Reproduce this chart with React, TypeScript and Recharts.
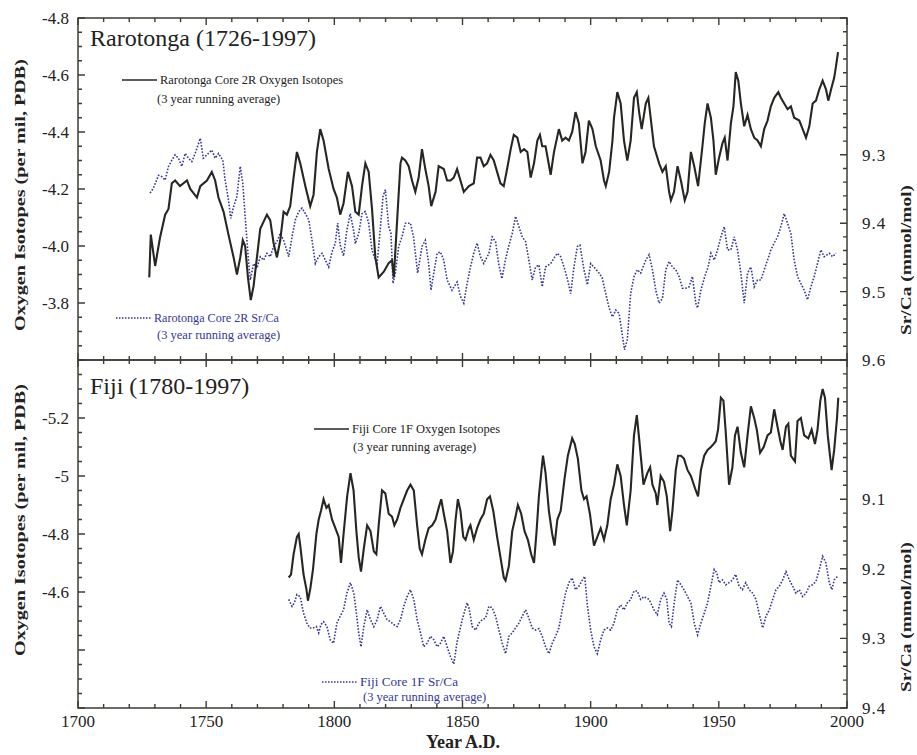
import React from 'react';
import { LineChart, Line, XAxis, YAxis } from 'recharts';

// Rarotonga core 2R, oxygen isotopes (per mil, PDB), 3 year running average
const raroO18: number[][] = [
  [1727.8, -3.89], [1728.4, -4.04], [1730.1, -3.93], [1732.0, -4.03], [1734.0, -4.11], [1735.3, -4.13],
  [1736.6, -4.22], [1737.9, -4.23], [1739.8, -4.21], [1742.5, -4.23], [1743.8, -4.2], [1746.4, -4.17],
  [1747.7, -4.21], [1750.3, -4.23], [1752.2, -4.26], [1753.5, -4.23], [1754.8, -4.17], [1756.8, -4.12],
  [1758.7, -4.04], [1760.7, -3.96], [1762.0, -3.9], [1763.3, -3.96], [1764.3, -4.02], [1765.2, -4.0],
  [1766.3, -3.89], [1767.4, -3.81], [1768.5, -3.86], [1769.8, -3.96], [1771.1, -4.06], [1773.7, -4.11],
  [1775.0, -4.09], [1776.3, -4.01], [1777.6, -3.96], [1778.9, -4.02], [1780.2, -4.12], [1781.5, -4.11],
  [1782.8, -4.14], [1784.1, -4.24], [1785.4, -4.33], [1786.7, -4.29], [1788.7, -4.21], [1790.6, -4.14],
  [1791.9, -4.18], [1793.2, -4.33], [1794.5, -4.41], [1795.8, -4.37], [1797.8, -4.27], [1799.7, -4.2],
  [1801.0, -4.17], [1802.3, -4.11], [1803.6, -4.15], [1805.3, -4.26], [1806.9, -4.21], [1808.2, -4.12],
  [1809.5, -4.11], [1810.8, -4.21], [1812.1, -4.29], [1813.4, -4.26], [1814.7, -4.13], [1816.0, -3.96],
  [1817.3, -3.89], [1819.3, -3.91], [1821.2, -3.94], [1822.5, -3.95], [1823.2, -3.89], [1824.5, -4.09],
  [1825.8, -4.29], [1826.4, -4.31], [1827.7, -4.3], [1829.0, -4.28], [1830.3, -4.23], [1831.6, -4.19],
  [1832.9, -4.24], [1834.2, -4.34], [1835.5, -4.27], [1836.8, -4.21], [1837.8, -4.14], [1839.5, -4.19],
  [1840.7, -4.28], [1842.7, -4.27], [1844.0, -4.23], [1845.3, -4.23], [1846.6, -4.24], [1847.9, -4.27],
  [1849.2, -4.23], [1850.5, -4.19], [1852.5, -4.21], [1854.4, -4.22], [1855.7, -4.31], [1857.0, -4.31],
  [1858.3, -4.28], [1859.6, -4.29], [1860.9, -4.32], [1862.2, -4.3], [1863.5, -4.26], [1864.8, -4.22],
  [1866.1, -4.21], [1867.4, -4.27], [1868.8, -4.34], [1870.0, -4.39], [1871.4, -4.38], [1872.7, -4.33],
  [1874.0, -4.34], [1875.3, -4.33], [1876.6, -4.24], [1877.9, -4.29], [1879.2, -4.37], [1880.2, -4.39],
  [1881.1, -4.35], [1882.4, -4.35], [1884.4, -4.25], [1885.7, -4.33], [1887.6, -4.41], [1888.9, -4.37],
  [1890.2, -4.38], [1891.5, -4.37], [1892.8, -4.4], [1894.1, -4.47], [1895.4, -4.43], [1896.8, -4.29],
  [1898.0, -4.33], [1899.3, -4.44], [1900.7, -4.41], [1902.0, -4.35], [1903.9, -4.3], [1905.2, -4.23],
  [1905.9, -4.21], [1907.2, -4.26], [1908.5, -4.37], [1909.1, -4.45], [1910.4, -4.54], [1911.7, -4.5],
  [1913.0, -4.37], [1914.3, -4.3], [1915.6, -4.37], [1916.9, -4.52], [1918.0, -4.54], [1918.9, -4.47],
  [1919.9, -4.41], [1921.5, -4.5], [1922.5, -4.52], [1923.4, -4.45], [1924.7, -4.35], [1926.7, -4.29],
  [1928.0, -4.26], [1929.3, -4.28], [1930.6, -4.19], [1931.3, -4.16], [1932.5, -4.19], [1933.9, -4.28],
  [1935.2, -4.23], [1936.7, -4.16], [1937.8, -4.19], [1939.1, -4.33], [1940.4, -4.28], [1941.9, -4.21],
  [1943.6, -4.35], [1944.5, -4.43], [1945.6, -4.5], [1946.9, -4.45], [1947.9, -4.37], [1948.8, -4.25],
  [1950.1, -4.31], [1951.4, -4.36], [1952.3, -4.38], [1953.4, -4.3], [1954.7, -4.43], [1955.7, -4.49],
  [1956.6, -4.61], [1957.6, -4.58], [1958.6, -4.5], [1959.9, -4.42], [1961.2, -4.46], [1962.5, -4.41],
  [1963.8, -4.38], [1965.1, -4.37], [1966.4, -4.35], [1967.7, -4.41], [1969.0, -4.44], [1970.3, -4.49],
  [1971.6, -4.52], [1973.2, -4.54], [1974.2, -4.52], [1975.5, -4.5], [1976.8, -4.48], [1978.1, -4.49],
  [1979.4, -4.45], [1981.4, -4.44], [1982.7, -4.41], [1984.0, -4.38], [1985.3, -4.42], [1986.6, -4.5],
  [1987.9, -4.51], [1989.2, -4.55], [1990.5, -4.58], [1991.8, -4.55], [1992.7, -4.51], [1993.8, -4.55],
  [1995.0, -4.59], [1995.7, -4.63], [1996.5, -4.68],
];

// Rarotonga core 2R, Sr/Ca (mmol/mol)
const raroSrCa: number[][] = [
  [1728.1, 9.356], [1729.4, 9.349], [1731.4, 9.33], [1732.7, 9.332], [1734.0, 9.337], [1735.3, 9.317],
  [1736.6, 9.308], [1737.9, 9.3], [1739.2, 9.305], [1740.5, 9.317], [1741.8, 9.298], [1743.1, 9.305],
  [1744.4, 9.31], [1745.7, 9.298], [1747.7, 9.276], [1748.9, 9.305], [1750.3, 9.3], [1752.2, 9.293],
  [1753.5, 9.305], [1754.8, 9.298], [1756.5, 9.308], [1757.4, 9.337], [1758.7, 9.366], [1759.6, 9.393],
  [1760.7, 9.376], [1762.0, 9.361], [1763.3, 9.317], [1764.3, 9.342], [1765.2, 9.39], [1766.5, 9.454],
  [1767.2, 9.483], [1768.5, 9.459], [1769.8, 9.466], [1771.1, 9.449], [1772.4, 9.454], [1773.7, 9.444],
  [1775.0, 9.449], [1776.3, 9.434], [1777.6, 9.427], [1778.9, 9.415], [1780.2, 9.425], [1782.2, 9.449],
  [1783.5, 9.42], [1784.8, 9.395], [1786.1, 9.383], [1787.4, 9.378], [1788.7, 9.386], [1790.0, 9.395],
  [1791.3, 9.425], [1792.6, 9.459], [1793.9, 9.449], [1795.2, 9.444], [1796.5, 9.454], [1797.8, 9.464],
  [1799.1, 9.442], [1800.4, 9.429], [1801.3, 9.4], [1802.3, 9.432], [1803.6, 9.448], [1804.9, 9.41],
  [1806.2, 9.386], [1807.5, 9.41], [1808.2, 9.43], [1809.5, 9.415], [1810.8, 9.386], [1812.1, 9.383],
  [1813.4, 9.4], [1814.7, 9.439], [1816.0, 9.454], [1816.7, 9.459], [1818.0, 9.405], [1819.0, 9.361],
  [1819.9, 9.351], [1821.2, 9.405], [1822.1, 9.415], [1822.9, 9.488], [1823.8, 9.473], [1825.1, 9.434],
  [1826.4, 9.42], [1827.7, 9.4], [1829.7, 9.4], [1830.9, 9.42], [1832.5, 9.473], [1834.2, 9.434],
  [1835.5, 9.425], [1836.8, 9.459], [1837.7, 9.498], [1838.8, 9.473], [1840.1, 9.444], [1841.4, 9.442],
  [1842.7, 9.454], [1844.0, 9.483], [1845.9, 9.498], [1847.9, 9.486], [1849.2, 9.507], [1850.5, 9.517],
  [1851.8, 9.488], [1853.1, 9.464], [1854.4, 9.444], [1855.7, 9.429], [1857.0, 9.449], [1858.3, 9.459],
  [1860.3, 9.444], [1861.6, 9.42], [1862.9, 9.427], [1864.1, 9.459], [1865.4, 9.481], [1866.7, 9.454],
  [1868.0, 9.434], [1869.4, 9.415], [1870.7, 9.39], [1872.0, 9.405], [1873.3, 9.42], [1874.6, 9.427],
  [1875.9, 9.454], [1877.2, 9.483], [1878.5, 9.464], [1879.8, 9.461], [1881.1, 9.493], [1882.4, 9.464],
  [1884.4, 9.459], [1885.7, 9.451], [1887.0, 9.444], [1888.3, 9.449], [1889.6, 9.464], [1890.9, 9.481],
  [1892.2, 9.503], [1893.5, 9.464], [1894.8, 9.434], [1895.8, 9.432], [1897.4, 9.468], [1898.7, 9.49],
  [1900.0, 9.459], [1901.3, 9.464], [1903.3, 9.473], [1904.5, 9.48], [1905.9, 9.503], [1907.2, 9.524],
  [1908.5, 9.537], [1909.8, 9.527], [1911.1, 9.532], [1912.2, 9.56], [1913.2, 9.585], [1914.3, 9.57],
  [1915.6, 9.503], [1916.9, 9.478], [1918.2, 9.468], [1919.5, 9.473], [1921.5, 9.454], [1922.8, 9.446],
  [1924.1, 9.468], [1925.4, 9.498], [1926.7, 9.517], [1928.0, 9.51], [1929.3, 9.468], [1930.6, 9.456],
  [1931.9, 9.464], [1933.2, 9.468], [1934.5, 9.478], [1935.8, 9.495], [1937.1, 9.495], [1938.4, 9.493],
  [1939.7, 9.478], [1941.0, 9.517], [1941.7, 9.524], [1943.0, 9.498], [1944.5, 9.478], [1945.8, 9.464],
  [1946.9, 9.444], [1948.2, 9.454], [1949.5, 9.439], [1950.8, 9.42], [1952.1, 9.405], [1953.4, 9.439],
  [1954.7, 9.439], [1956.0, 9.42], [1957.3, 9.439], [1958.6, 9.473], [1959.9, 9.517], [1961.2, 9.473],
  [1962.5, 9.464], [1963.8, 9.493], [1965.1, 9.483], [1966.4, 9.483], [1967.7, 9.468], [1969.0, 9.454],
  [1970.3, 9.439], [1971.6, 9.429], [1972.9, 9.42], [1974.2, 9.405], [1975.5, 9.386], [1976.8, 9.4],
  [1978.1, 9.415], [1979.4, 9.454], [1980.7, 9.478], [1982.0, 9.488], [1983.3, 9.498], [1984.6, 9.512],
  [1985.9, 9.493], [1987.2, 9.478], [1988.5, 9.459], [1989.8, 9.439], [1991.1, 9.449], [1993.1, 9.444],
  [1994.4, 9.449], [1995.7, 9.444],
];

// Fiji core 1F, oxygen isotopes
const fijiO18: number[][] = [
  [1782.2, -4.65], [1783.1, -4.66], [1784.1, -4.73], [1785.4, -4.79], [1786.1, -4.8], [1786.7, -4.76],
  [1788.0, -4.66], [1789.1, -4.61], [1789.7, -4.57], [1790.6, -4.61], [1791.7, -4.68], [1793.0, -4.8],
  [1793.9, -4.85], [1794.8, -4.88], [1795.8, -4.92], [1796.9, -4.89], [1797.8, -4.9], [1799.1, -4.85],
  [1800.4, -4.82], [1801.7, -4.79], [1802.6, -4.7], [1803.6, -4.8], [1805.0, -4.93], [1806.3, -5.01],
  [1807.5, -4.95], [1808.6, -4.81], [1809.5, -4.72], [1810.4, -4.67], [1811.5, -4.75], [1812.8, -4.83],
  [1814.1, -4.81], [1815.4, -4.74], [1816.4, -4.73], [1817.3, -4.83], [1818.6, -4.95], [1819.9, -4.94],
  [1821.2, -4.87], [1822.5, -4.86], [1823.4, -4.83], [1824.5, -4.85], [1825.8, -4.89], [1827.1, -4.92],
  [1828.4, -4.95], [1829.7, -4.97], [1831.0, -4.95], [1832.3, -4.83], [1833.3, -4.75], [1834.2, -4.73],
  [1835.5, -4.78], [1836.8, -4.82], [1838.2, -4.83], [1839.5, -4.85], [1840.7, -4.89], [1841.7, -4.92],
  [1842.7, -4.87], [1844.0, -4.81], [1845.3, -4.7], [1846.3, -4.74], [1847.3, -4.85], [1848.2, -4.92],
  [1849.2, -4.88], [1850.3, -4.79], [1851.2, -4.78], [1852.5, -4.82], [1853.1, -4.83], [1854.4, -4.78],
  [1855.7, -4.82], [1857.0, -4.85], [1858.3, -4.87], [1859.6, -4.92], [1860.7, -4.93], [1862.0, -4.88],
  [1863.5, -4.79], [1864.8, -4.72], [1866.1, -4.65], [1866.8, -4.64], [1868.1, -4.69], [1869.4, -4.81],
  [1870.7, -4.86], [1871.6, -4.9], [1872.9, -4.87], [1874.2, -4.81], [1875.5, -4.78], [1876.8, -4.73],
  [1877.9, -4.7], [1878.9, -4.81], [1879.8, -4.93], [1880.7, -5.01], [1881.4, -5.07], [1882.4, -5.01],
  [1883.7, -4.88], [1885.0, -4.8], [1885.9, -4.76], [1887.0, -4.85], [1888.3, -4.88], [1889.8, -4.99],
  [1891.1, -5.07], [1892.8, -5.13], [1893.8, -5.11], [1895.0, -5.06], [1896.4, -4.95], [1897.4, -4.92],
  [1898.4, -4.93], [1899.7, -4.87], [1901.3, -4.76], [1902.6, -4.79], [1903.9, -4.82], [1905.2, -4.78],
  [1906.5, -4.83], [1907.8, -4.92], [1909.1, -4.97], [1910.4, -5.04], [1911.7, -5.0], [1913.0, -4.9],
  [1914.1, -4.83], [1915.6, -4.95], [1916.9, -5.14], [1918.0, -5.21], [1918.9, -5.13], [1920.6, -4.97],
  [1922.1, -5.01], [1923.2, -5.03], [1924.1, -4.97], [1925.4, -4.94], [1926.0, -4.9], [1927.3, -5.0],
  [1928.6, -4.98], [1929.7, -4.93], [1931.0, -4.81], [1931.9, -4.88], [1933.2, -5.02], [1934.1, -5.07],
  [1935.2, -5.07], [1936.4, -5.06], [1937.8, -5.02], [1939.1, -5.0], [1941.0, -4.95], [1941.9, -4.93],
  [1943.0, -5.02], [1944.3, -5.07], [1945.6, -5.09], [1946.9, -5.1], [1947.9, -5.11], [1948.8, -5.12],
  [1949.7, -5.16], [1950.8, -5.27], [1951.8, -5.26], [1952.7, -5.15], [1954.0, -4.97], [1955.3, -5.03],
  [1956.3, -5.14], [1957.3, -5.17], [1958.6, -5.08], [1959.9, -5.03], [1961.2, -5.14], [1962.5, -5.24],
  [1963.8, -5.2], [1964.8, -5.16], [1966.1, -5.08], [1967.5, -5.1], [1969.0, -5.14], [1970.3, -5.15],
  [1971.6, -5.23], [1972.9, -5.17], [1974.0, -5.12], [1974.9, -5.09], [1976.2, -5.17], [1977.1, -5.18],
  [1978.1, -5.07], [1979.7, -5.05], [1980.7, -5.19], [1982.0, -5.2], [1983.3, -5.14], [1984.9, -5.13],
  [1986.2, -5.16], [1987.5, -5.11], [1988.5, -5.16], [1989.6, -5.26], [1990.5, -5.3], [1991.4, -5.27],
  [1992.5, -5.14], [1993.5, -5.06], [1994.0, -5.02], [1995.0, -5.09], [1996.1, -5.2], [1996.6, -5.27],
];

// Fiji core 1F, Sr/Ca
const fijiSrCa: number[][] = [
  [1782.2, 9.244], [1783.5, 9.254], [1784.4, 9.249], [1785.4, 9.237], [1786.7, 9.24], [1788.0, 9.264],
  [1789.3, 9.278], [1790.4, 9.285], [1791.7, 9.285], [1793.0, 9.283], [1793.9, 9.292], [1794.8, 9.28],
  [1795.8, 9.276], [1797.1, 9.283], [1798.4, 9.302], [1799.7, 9.307], [1801.0, 9.278], [1802.3, 9.268],
  [1803.6, 9.259], [1804.9, 9.235], [1806.3, 9.22], [1807.6, 9.235], [1808.6, 9.264], [1809.5, 9.292],
  [1810.4, 9.312], [1811.5, 9.283], [1812.8, 9.259], [1814.1, 9.273], [1815.4, 9.283], [1816.7, 9.273],
  [1818.0, 9.254], [1819.3, 9.264], [1820.6, 9.273], [1821.9, 9.276], [1823.2, 9.28], [1824.5, 9.283],
  [1825.8, 9.273], [1827.1, 9.254], [1828.4, 9.24], [1829.7, 9.23], [1831.0, 9.244], [1832.3, 9.273],
  [1833.6, 9.292], [1834.9, 9.312], [1836.2, 9.307], [1837.5, 9.297], [1838.8, 9.302], [1840.1, 9.312],
  [1841.4, 9.307], [1842.7, 9.297], [1844.0, 9.312], [1845.3, 9.326], [1846.6, 9.337], [1847.9, 9.305],
  [1849.9, 9.273], [1851.8, 9.249], [1852.5, 9.256], [1853.8, 9.283], [1855.1, 9.288], [1856.4, 9.278],
  [1857.7, 9.273], [1859.0, 9.271], [1860.3, 9.254], [1861.6, 9.256], [1862.9, 9.268], [1864.2, 9.288],
  [1865.5, 9.307], [1866.8, 9.322], [1868.1, 9.297], [1869.4, 9.292], [1870.7, 9.285], [1872.0, 9.278],
  [1873.3, 9.268], [1874.6, 9.259], [1875.9, 9.271], [1877.2, 9.285], [1878.5, 9.288], [1879.8, 9.286],
  [1881.1, 9.297], [1882.4, 9.312], [1883.7, 9.322], [1885.0, 9.307], [1886.3, 9.297], [1887.6, 9.285],
  [1888.9, 9.259], [1890.2, 9.235], [1891.5, 9.22], [1892.8, 9.213], [1894.1, 9.23], [1895.4, 9.225],
  [1896.8, 9.216], [1897.7, 9.211], [1898.7, 9.252], [1900.0, 9.288], [1901.3, 9.312], [1902.6, 9.322],
  [1903.9, 9.302], [1905.2, 9.288], [1906.5, 9.285], [1907.8, 9.288], [1909.1, 9.278], [1910.4, 9.259],
  [1911.7, 9.252], [1913.0, 9.259], [1914.3, 9.249], [1915.6, 9.244], [1916.9, 9.232], [1918.2, 9.232],
  [1919.5, 9.244], [1920.8, 9.24], [1922.8, 9.244], [1924.7, 9.259], [1926.0, 9.266], [1927.3, 9.244],
  [1928.6, 9.235], [1929.7, 9.244], [1930.6, 9.278], [1931.5, 9.283], [1932.6, 9.249], [1933.9, 9.216],
  [1935.2, 9.223], [1936.4, 9.23], [1937.8, 9.24], [1939.1, 9.249], [1940.4, 9.278], [1941.7, 9.295],
  [1943.0, 9.278], [1944.3, 9.264], [1945.6, 9.249], [1946.9, 9.225], [1948.2, 9.201], [1949.2, 9.206],
  [1950.1, 9.22], [1951.4, 9.216], [1952.7, 9.223], [1954.0, 9.22], [1955.3, 9.216], [1956.6, 9.208],
  [1957.9, 9.225], [1959.2, 9.23], [1960.5, 9.22], [1961.8, 9.23], [1963.2, 9.235], [1964.5, 9.244],
  [1965.7, 9.264], [1967.1, 9.285], [1968.4, 9.268], [1969.7, 9.259], [1971.0, 9.244], [1972.3, 9.23],
  [1973.6, 9.225], [1974.9, 9.216], [1976.2, 9.204], [1977.5, 9.216], [1978.8, 9.225], [1980.1, 9.235],
  [1981.4, 9.23], [1982.7, 9.24], [1984.0, 9.235], [1985.3, 9.225], [1986.6, 9.223], [1987.9, 9.218],
  [1989.2, 9.201], [1990.5, 9.182], [1991.8, 9.192], [1993.1, 9.22], [1994.1, 9.23], [1995.0, 9.216],
  [1996.3, 9.211],
];

// labelled ticks
const yearLabels = [1700, 1750, 1800, 1850, 1900, 1950, 2000];
const raroO18Labels = [-4.8, -4.6, -4.4, -4.2, -4.0, -3.8];
const raroSrLabels = [9.3, 9.4, 9.5, 9.6];
const fijiO18Labels = [-5.2, -5, -4.8, -4.6];
const fijiSrLabels = [9.1, 9.2, 9.3, 9.4];

const steps = (from: number, to: number, step: number) => {
  const out: number[] = [];
  const n = Math.round((to - from) / step);
  for (let i = 0; i <= n; i++) out.push(Math.round((from + i * step) * 1000) / 1000);
  return out;
};

const toRows = (pairs: number[][]) => pairs.map(([year, v]) => ({ year, v }));

const FONT = '"Liberation Serif", "DejaVu Serif", serif';
const FRAME = '#3c3c36';
const BLACK = '#262622';
const BLUE = '#36369c';

// plot frame shared by both panels
const PLOT_L = 78;
const PLOT_R = 847;
const X_DOMAIN = [1700, 2000];
const yearTicks = steps(1700, 2000, 10);

const has = (arr: number[], v: number) => arr.some((a) => Math.abs(a - v) < 1e-6);
const isMult = (v: number, m: number) => Math.abs(v / m - Math.round(v / m)) < 1e-6;

const leftLabel = (labels: number[], fmt: (v: number) => string) => (p: any) => {
  const v = p.payload.value;
  if (!has(labels, v)) return <g />;
  return (
    <text x={Number(p.x) - 9} y={Number(p.y)} dy="0.35em" textAnchor="end" fontFamily={FONT} fontSize={17} fill="#222">
      {fmt(v)}
    </text>
  );
};

const rightLabel = (labels: number[]) => (p: any) => {
  const v = p.payload.value;
  if (!has(labels, v)) return <g />;
  return (
    <text x={Number(p.x) + 15} y={Number(p.y)} dy="0.35em" textAnchor="start" fontFamily={FONT} fontSize={17} letterSpacing={1} fill="#222">
      {v.toFixed(1)}
    </text>
  );
};

const yearLabel = (p: any) => {
  const v = p.payload.value;
  if (!has(yearLabels, v)) return <g />;
  return (
    <text x={Number(p.x)} y={Number(p.y) + 19} textAnchor="middle" fontFamily={FONT} fontSize={17} fill="#222">
      {v}
    </text>
  );
};

type PanelProps = {
  top: number;
  height: number;
  marginTop: number;
  marginBottom: number;
  bottomAxisHeight: number;
  o18: number[][];
  srca: number[][];
  oDomain: number[];
  sDomain: number[];
  oLabels: number[];
  sLabels: number[];
  oFmt: (v: number) => string;
  labelYears: boolean;
};

const Panel = (props: PanelProps) => (
  <div style={{ position: 'absolute', left: 0, top: props.top }}>
    <LineChart
      width={917}
      height={props.height}
      margin={{ top: props.marginTop, right: 0, bottom: props.marginBottom, left: 0 }}
      style={{ overflow: 'visible' }}
    >
      <XAxis
        xAxisId="b"
        orientation="bottom"
        type="number"
        dataKey="year"
        domain={X_DOMAIN}
        allowDataOverflow
        ticks={yearTicks}
        interval={0}
        height={props.bottomAxisHeight}
        tickSize={0}
        tickMargin={0}
        tickLine={false}
        axisLine={false}
        tick={props.labelYears ? yearLabel : false}
      />
      <YAxis
        yAxisId="o"
        orientation="left"
        type="number"
        width={PLOT_L}
        domain={props.oDomain}
        allowDataOverflow
        reversed
        ticks={steps(props.oDomain[0], props.oDomain[1], 0.05)}
        interval={0}
        tickSize={0}
        tickMargin={0}
        tickLine={false}
        axisLine={false}
        tick={leftLabel(props.oLabels, props.oFmt)}
      />
      <YAxis
        yAxisId="s"
        orientation="right"
        type="number"
        width={917 - PLOT_R}
        domain={props.sDomain}
        allowDataOverflow
        reversed
        ticks={steps(props.sDomain[0], props.sDomain[1], 0.02)}
        interval={0}
        tickSize={0}
        tickMargin={0}
        tickLine={false}
        axisLine={false}
        tick={rightLabel(props.sLabels)}
      />
      <Line
        data={toRows(props.srca)}
        xAxisId="b"
        yAxisId="s"
        dataKey="v"
        type="linear"
        stroke={BLUE}
        strokeWidth={1.6}
        strokeDasharray="1.6 1.6"
        dot={false}
        isAnimationActive={false}
      />
      <Line
        data={toRows(props.o18)}
        xAxisId="b"
        yAxisId="o"
        dataKey="v"
        type="linear"
        stroke={BLACK}
        strokeWidth={2.1}
        dot={false}
        isAnimationActive={false}
      />
    </LineChart>
  </div>
);

// frame with inward tick marks, using the same domains as the panel axes
const Frame = (p: { top: number; bottom: number; oDomain: number[]; sDomain: number[] }) => {
  const h = p.bottom - p.top;
  const xPx = (yr: number) => PLOT_L + ((yr - X_DOMAIN[0]) / (X_DOMAIN[1] - X_DOMAIN[0])) * (PLOT_R - PLOT_L);
  const oPx = (v: number) => p.top + ((v - p.oDomain[0]) / (p.oDomain[1] - p.oDomain[0])) * h;
  const sPx = (v: number) => p.top + ((v - p.sDomain[0]) / (p.sDomain[1] - p.sDomain[0])) * h;
  const d: string[] = [];
  yearTicks.forEach((yr) => {
    const len = isMult(yr, 50) ? 7 : 4;
    const x = xPx(yr);
    d.push(`M${x},${p.top}v${len}`, `M${x},${p.bottom}v${-len}`);
  });
  steps(p.oDomain[0], p.oDomain[1], 0.05).forEach((v) => {
    d.push(`M${PLOT_L},${oPx(v)}h${isMult(v, 0.2) ? 7 : 4}`);
  });
  steps(p.sDomain[0], p.sDomain[1], 0.02).forEach((v) => {
    d.push(`M${PLOT_R},${sPx(v)}h${-(isMult(v, 0.1) ? 7 : 4)}`);
  });
  return (
    <g>
      <path d={d.join('')} stroke={FRAME} strokeWidth={1.4} fill="none" />
      <rect x={PLOT_L} y={p.top} width={PLOT_R - PLOT_L} height={h} fill="none" stroke={FRAME} strokeWidth={1.5} />
    </g>
  );
};

const Legend = (p: { x: number; y: number; dotted: boolean; label: string; indent: number; width: number; gap: number }) => {
  const color = p.dotted ? BLUE : '#222';
  return (
    <g>
      <line
        x1={p.x}
        x2={p.x + 35}
        y1={p.y}
        y2={p.y}
        stroke={p.dotted ? BLUE : BLACK}
        strokeWidth={p.dotted ? 1.4 : 1.6}
        strokeDasharray={p.dotted ? '1.5 1.5' : undefined}
      />
      <text x={p.x + 38} y={p.y + 4} fontFamily={FONT} fontSize={12.5} fill={color} textLength={p.width} lengthAdjust="spacingAndGlyphs">
        {p.label}
      </text>
      <text x={p.x + 38 + p.indent} y={p.y + 4 + p.gap} fontFamily={FONT} fontSize={12.5} fill={color}>
        (3 year running average)
      </text>
    </g>
  );
};

const VTitle = (p: { x: number; y: number; text: string; len: number }) => (
  <text
    transform={`translate(${p.x},${p.y}) rotate(-90)`}
    textAnchor="middle"
    dy="0.35em"
    fontFamily={FONT}
    fontWeight="bold"
    fontSize={15}
    fill="#222"
    textLength={p.len}
    lengthAdjust="spacingAndGlyphs"
  >
    {p.text}
  </text>
);

const RARO_DOMAIN = [-4.8, -3.6];
const RARO_SR_DOMAIN = [9.1, 9.6];
const FIJI_DOMAIN = [-5.4, -4.2];
const FIJI_SR_DOMAIN = [8.9, 9.4];

export default function App() {
  return (
    <div style={{ position: 'absolute', left: 0, top: 0, width: 917, height: 755, background: '#fff' }}>
      <Panel
        top={0}
        height={380}
        marginTop={18}
        marginBottom={20}
        bottomAxisHeight={0}
        o18={raroO18}
        srca={raroSrCa}
        oDomain={RARO_DOMAIN}
        sDomain={RARO_SR_DOMAIN}
        oLabels={raroO18Labels}
        sLabels={raroSrLabels}
        oFmt={(v) => v.toFixed(1)}
        labelYears={false}
      />
      <Panel
        top={340}
        height={415}
        marginTop={20}
        marginBottom={0}
        bottomAxisHeight={47}
        o18={fijiO18}
        srca={fijiSrCa}
        oDomain={FIJI_DOMAIN}
        sDomain={FIJI_SR_DOMAIN}
        oLabels={fijiO18Labels}
        sLabels={fijiSrLabels}
        oFmt={(v) => String(v)}
        labelYears={true}
      />
      <svg width={917} height={755} style={{ position: 'absolute', left: 0, top: 0, pointerEvents: 'none' }}>
        <Frame top={18} bottom={360} oDomain={RARO_DOMAIN} sDomain={RARO_SR_DOMAIN} />
        <Frame top={360} bottom={708} oDomain={FIJI_DOMAIN} sDomain={FIJI_SR_DOMAIN} />
        <text x={90} y={46} fontFamily={FONT} fontSize={24} fill="#222">
          Rarotonga (1726-1997)
        </text>
        <text x={90} y={394} fontFamily={FONT} fontSize={24} fill="#222">
          Fiji (1780-1997)
        </text>
        <Legend x={122} y={80} dotted={false} label="Rarotonga Core 2R Oxygen Isotopes" indent={-3} width={183} gap={19} />
        <Legend x={116} y={318} dotted={true} label="Rarotonga Core 2R Sr/Ca" indent={3} width={125} gap={17} />
        <Legend x={314} y={429} dotted={false} label="Fiji Core 1F Oxygen Isotopes" indent={1} width={148} gap={18} />
        <Legend x={322} y={682} dotted={true} label="Fiji Core 1F Sr/Ca" indent={3} width={98} gap={15} />
        <VTitle x={20} y={195} text="Oxygen Isotopes (per mil, PDB)" len={272} />
        <VTitle x={20} y={520} text="Oxygen Isotopes (per mil, PDB)" len={272} />
        <VTitle x={906} y={260} text="Sr/Ca (mmol/mol)" len={150} />
        <VTitle x={906} y={617} text="Sr/Ca (mmol/mol)" len={150} />
        <text x={463} y={748} textAnchor="middle" fontFamily={FONT} fontWeight="bold" fontSize={18} fill="#222">
          Year A.D.
        </text>
      </svg>
    </div>
  );
}
